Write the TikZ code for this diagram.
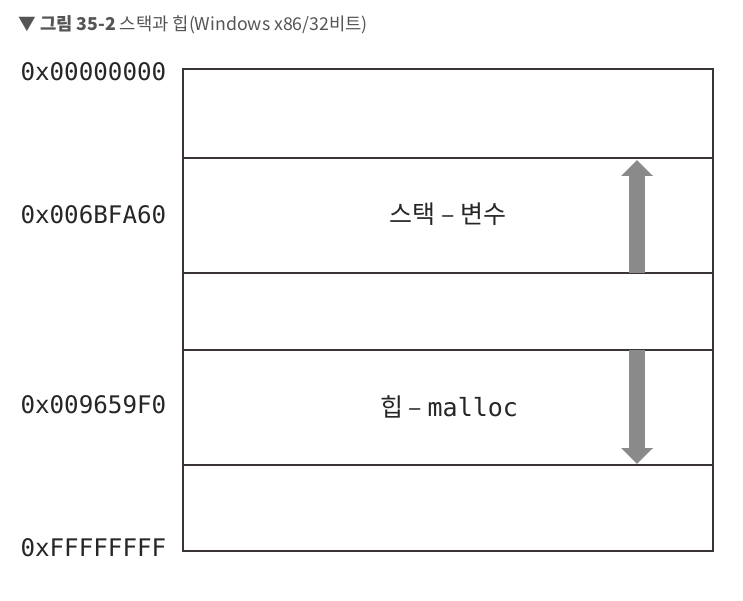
\documentclass[tikz,border=0pt]{standalone}
\usepackage{fontspec}
\setmainfont{Noto Sans CJK KR}
\newfontfamily\addrfont{DejaVu Sans Mono}
\newfontfamily\korfont{Noto Sans CJK KR}
\usetikzlibrary{arrows.meta}
\colorlet{background}{white}
\definecolor{penColor}{HTML}{3A3434}
\definecolor{arrowColor}{HTML}{8A8A8A}
\definecolor{titleColor}{HTML}{555555}
\tikzset{
  addr/.style={anchor=west,font=\addrfont\fontsize{24.2}{26}\selectfont,text=black!85},
  cell/.style={font=\korfont\fontsize{25}{28}\selectfont,text=black!85},
  growarrow/.style={line width=16pt,arrowColor,-{Triangle[length=16pt,width=31pt]}}
}

\begin{document}
\begin{tikzpicture}[x=1pt,y=-1pt]
				\useasboundingbox[fill=background] (0,0) rectangle (743,601);
				\coordinate (top) at (183,69);
				\coordinate (bottom) at (713,551);
				\coordinate (s1) at (637,273);
				\coordinate (s2) at (637,160);
				\coordinate (h1) at (637,350);
				\coordinate (h2) at (637,464);
				% memory block
				\draw[penColor,line width=1.5pt] (top) rectangle (bottom);
				\foreach \y in {158,273,350,465}
					\draw[penColor,line width=1.5pt] (183,\y)--(713,\y);
				% growth arrows
				\draw[growarrow] (s1)--(s2);
				\draw[growarrow] (h1)--(h2);
				\node [anchor=west,text=titleColor,font=\fontsize{17.7}{20}\selectfont] (title) at (15,25) {▼ \textbf{그림 35-2} 스택과 힙(Windows x86/32비트)};
				\node [addr] (a0) at (17,72) {0x00000000};
				\node [addr] (a1) at (17,215) {0x006BFA60};
				\node [addr] (a2) at (17,405) {0x009659F0};
				\node [addr] (a3) at (17,548) {0xFFFFFFFF};
				\node [cell] (stack) at (448,214) {스택 – 변수};
				\node [cell] (heap) at (449,407) {힙 – {\addrfont malloc}};
				\end{tikzpicture}
\end{document}
